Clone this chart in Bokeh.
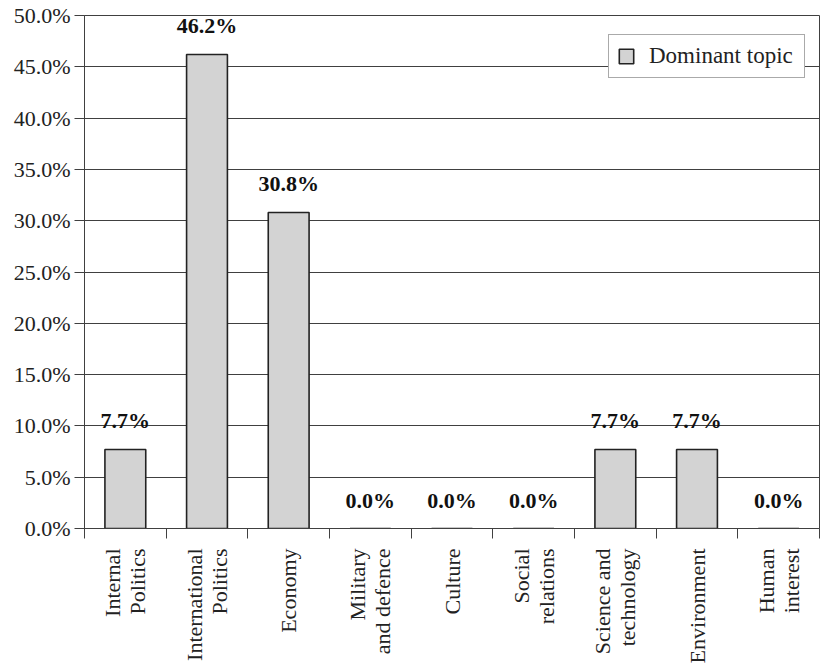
import math
import numpy as np
from bokeh.plotting import figure
from bokeh.models import ColumnDataSource, FixedTicker, PrintfTickFormatter, Legend, LegendItem
from bokeh.core.properties import value
from bokeh.embed import file_html
from bokeh.resources import INLINE

categories = ["Internal\nPolitics", "International\nPolitics", "Economy", "Military\nand defence",
              "Culture", "Social\nrelations", "Science and\ntechnology", "Environment", "Human\ninterest"]
shares = [7.7, 46.2, 30.8, 0.0, 0.0, 0.0, 7.7, 7.7, 0.0]
labels = ["7.7%", "46.2%", "30.8%", "0.0%", "0.0%", "0.0%", "7.7%", "7.7%", "0.0%"]
series_name = "Dominant topic"
y_ticks = [0, 5, 10, 15, 20, 25, 30, 35, 40, 45, 50]

FONT = "'Liberation Serif', 'Times New Roman', serif"
n = len(categories)
centers = list(np.arange(n) + 0.5)
bounds = list(range(n + 1))

src = ColumnDataSource(dict(x=centers, y=shares, lab=labels))

p = figure(width=820, height=670, x_range=(0, n), y_range=(0, 50),
           output_backend="svg", toolbar_location=None,
           min_border_left=84, min_border_right=1, min_border_top=15, min_border_bottom=142)
p.background_fill_color = "white"
p.border_fill_color = "white"
p.outline_line_color = "#404040"
p.outline_line_width = 1

bars = p.vbar(x="x", top="y", width=0.5, source=src, fill_color="#d3d3d3",
              line_color="#222222", line_width=1.6)
p.text(x="x", y="y", text="lab", source=src, text_align="center", text_baseline="bottom",
       y_offset=-16, text_font=value(FONT), text_font_style="bold", text_font_size="22px",
       text_color="#111111")

p.xgrid.grid_line_color = None
p.ygrid.grid_line_color = "#404040"
p.ygrid.grid_line_width = 1

# y axis
p.yaxis.ticker = FixedTicker(ticks=y_ticks)
p.yaxis.formatter = PrintfTickFormatter(format="%.1f%%")
p.yaxis.major_label_text_font = FONT
p.yaxis.major_label_text_font_size = "22px"
p.yaxis.major_label_text_color = "#222222"
p.yaxis.major_tick_out = 10
p.yaxis.major_tick_in = 0
p.yaxis.minor_tick_line_color = None
p.yaxis.major_tick_line_color = "#404040"
p.yaxis.axis_line_color = "#404040"
p.yaxis.major_label_standoff = 4

# x axis
p.xaxis.ticker = FixedTicker(ticks=centers, minor_ticks=bounds)
p.xaxis.major_label_overrides = {c: lab for c, lab in zip(centers, categories)}
p.xaxis.major_label_orientation = math.pi / 2
p.xaxis.major_label_text_font = FONT
p.xaxis.major_label_text_font_size = "22px"
p.xaxis.major_label_text_color = "#222222"
p.xaxis.major_label_text_line_height = 1.0
p.xaxis.major_tick_line_color = None
p.xaxis.major_tick_out = 10
p.xaxis.major_tick_in = 0
p.xaxis.minor_tick_out = 10
p.xaxis.minor_tick_in = 0
p.xaxis.minor_tick_line_color = "#404040"
p.xaxis.axis_line_color = "#404040"
p.xaxis.major_label_standoff = 10

legend = Legend(items=[LegendItem(label=series_name, renderers=[bars])],
                location=(524, 450), orientation="vertical",
                label_text_font=FONT, label_text_font_size="23px", label_text_color="#222222",
                glyph_width=18, glyph_height=18, label_standoff=14, padding=8, spacing=0,
                label_width=147,
                border_line_color="#555555", border_line_width=1,
                background_fill_color="white", background_fill_alpha=1.0, margin=0)
p.add_layout(legend, "center")

open("out.html", "w").write(file_html(p, INLINE))
